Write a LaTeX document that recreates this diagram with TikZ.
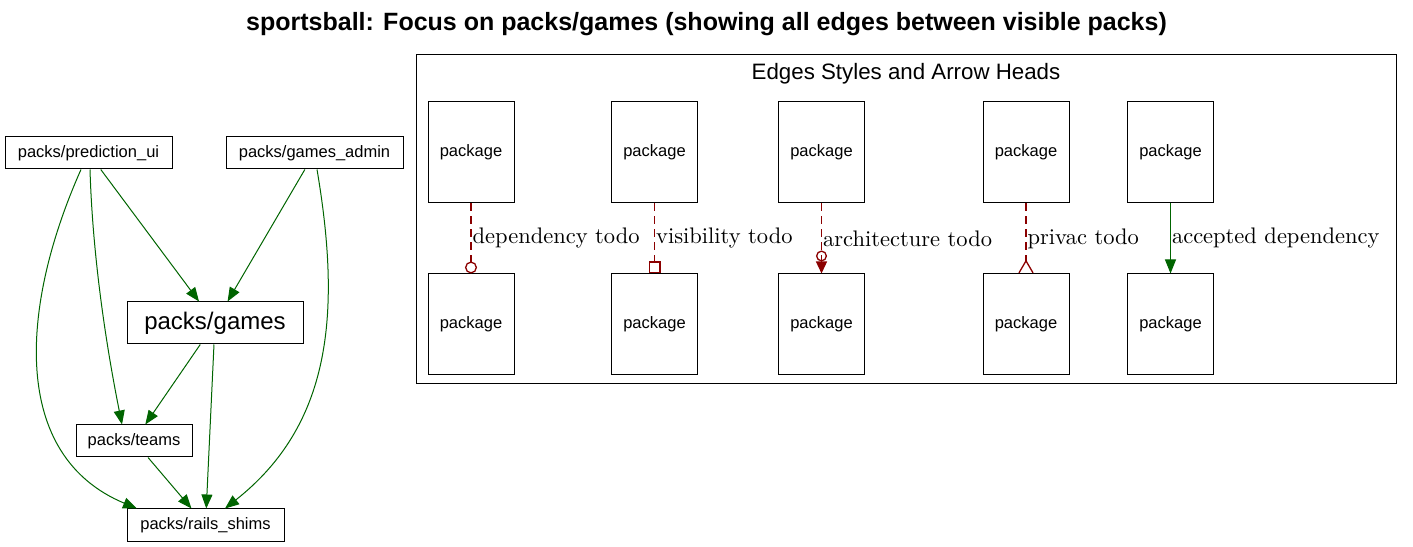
\documentclass[tikz,border=0pt]{standalone}
\usepackage{fontspec}
\newfontfamily\arialfont{Liberation Sans}
\newfontfamily\lblfont{lmroman10-regular}[Extension=.otf]
\definecolor{EdgeGreen}{RGB}{0,100,0}
\definecolor{TodoRed}{RGB}{139,0,0}
\usetikzlibrary{arrows.meta, positioning}

\begin{document}
\begin{tikzpicture}[
    x=1pt, y=1pt,
    pack/.style={draw, line width=1pt, inner sep=0pt, minimum height=32pt,
                 font=\arialfont\fontsize{16.5}{19}\selectfont},
    focus/.style={pack, minimum width=176pt, minimum height=42pt,
                  font=\arialfont\fontsize{24}{28}\selectfont},
    legbox/.style={pack, minimum width=86pt, minimum height=101pt},
    dep/.style={draw=EdgeGreen, line width=1pt, -{Triangle[length=14pt, width=11pt]}},
    todo/.style={draw=TodoRed, line width=1.3pt, dash pattern=on 8pt off 5pt},
    lbl/.style={anchor=west, inner sep=1pt, text=black, font=\lblfont\fontsize{22.5}{26}\selectfont}
]
\useasboundingbox (0,0) rectangle (1413,546);

\node[font=\arialfont\bfseries\fontsize{25}{30}\selectfont] (title) at (706.5,522)
    {sportsball: Focus on packs/games (showing all edges between visible packs)};

% packages around packs/games
\node[pack, minimum width=167pt] (pui) at (88.5,393) {packs/prediction\_ui};
\node[pack, minimum width=177pt] (gadmin) at (314.5,393) {packs/games\_admin};
\node[focus] (games) at (215,223) {packs/games};
\node[pack, minimum width=116pt] (teams) at (134,105) {packs/teams};
\node[pack, minimum width=157pt] (rails) at (205.5,21) {packs/rails\_shims};

\draw[dep] (pui) -- (games);
\draw[dep] (gadmin) -- (games);
\draw[dep] ([xshift=1.5pt]pui.south) .. controls +(3,-100) and +(-12,60) .. ([xshift=-12pt]teams.north);
\draw[dep] ([xshift=-7.5pt]pui.south) .. controls +(-61,-137) and +(-127,53) .. ([xshift=-68.5pt]rails.north);
\draw[dep] ([xshift=2.5pt]gadmin.south) .. controls +(25,-147) and +(105,83) .. ([xshift=19.5pt]rails.north);
\draw[dep] (games) -- (teams);
\draw[dep] (games) -- (rails);
\draw[dep] (teams) -- (rails);

% legend
\node[draw, line width=1pt, minimum width=980pt, minimum height=329pt, inner sep=0pt] (legend) at (906,326.5) {};
\node[font=\arialfont\fontsize{22.3}{26}\selectfont] (legendtitle) at ([yshift=-19pt]legend.north)
    {Edges Styles and Arrow Heads};

\node[legbox] (dtop) at (471,393.5) {package};
\node[legbox, below=70pt of dtop] (dbot) {package};
\node[legbox] (vtop) at (654.5,393.5) {package};
\node[legbox, below=70pt of vtop] (vbot) {package};
\node[legbox] (atop) at (821.5,393.5) {package};
\node[legbox, below=70pt of atop] (abot) {package};
\node[legbox] (ptop) at (1026,393.5) {package};
\node[legbox, below=70pt of ptop] (pbot) {package};
\node[legbox] (ctop) at (1170.5,393.5) {package};
\node[legbox, below=70pt of ctop] (cbot) {package};

\draw[todo, -{Circle[open, length=12pt]}] (dtop) -- node[lbl] {dependency todo} (dbot);
\draw[todo, -{Square[open, length=12pt]}] (vtop) -- node[lbl] {visibility todo} (vbot);
\draw[todo, -{Circle[open, length=11pt] Triangle[length=12pt, width=11pt]}] (atop) -- node[lbl] {architecture todo} (abot);
\draw[todo, -{Straight Barb[reversed, length=12pt, width=14pt]}] (ptop) -- node[lbl] {privac todo} (pbot);
\draw[dep] (ctop) -- node[lbl] {accepted dependency} (cbot);
\end{tikzpicture}
\end{document}
